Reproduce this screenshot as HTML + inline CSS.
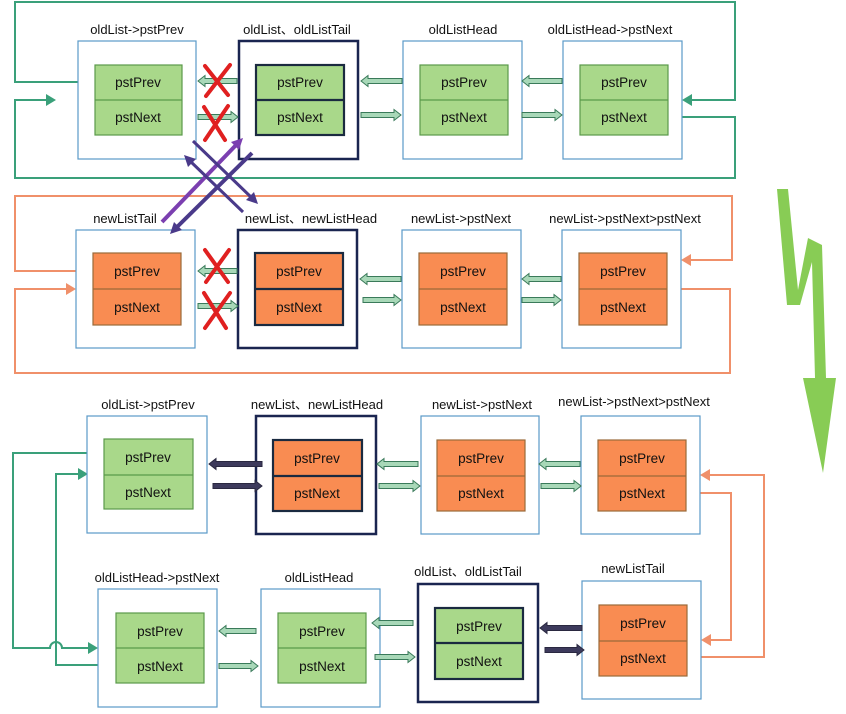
<!DOCTYPE html>
<html><head><meta charset="utf-8"><style>
html,body{margin:0;padding:0;background:#fff;}
svg{display:block;}
text{font-family:"Liberation Sans","Noto Sans CJK SC",sans-serif;fill:#111;}
</style></head><body>
<svg id="s" width="846" height="714" viewBox="0 0 846 714" xmlns="http://www.w3.org/2000/svg">
<g fill="none" stroke-width="2">
<polyline points="95,82 15,82 15,2 735,2 735,100 690,100" stroke="#3aa07a"/>
<polygon points="682,100 692,94 692,106" fill="#3aa07a" stroke="none"/>
<polyline points="648,117 735,117 735,178 15,178 15,100 48,100" stroke="#3aa07a"/>
<polygon points="56,100 46,94 46,106" fill="#3aa07a" stroke="none"/>
<polyline points="93,271 15,271 15,196 732,196 732,260 690,260" stroke="#f0906a"/>
<polygon points="681,260 691,254 691,266" fill="#f0906a" stroke="none"/>
<polyline points="681,289 730,289 730,373 15,373 15,289 68,289" stroke="#f0906a"/>
<polygon points="76,289 66,283 66,295" fill="#f0906a" stroke="none"/>
<path d="M88,453 L13,453 L13,648 L50,648 A6,6 0 0 1 62,648 L90,648" stroke="#3aa07a"/>
<polygon points="98,648 88,642 88,654" fill="#3aa07a" stroke="none"/>
<polyline points="116,665 56,665 56,474 80,474" stroke="#3aa07a"/>
<polygon points="88,474 78,468 78,480" fill="#3aa07a" stroke="none"/>
<polyline points="686,493 731,493 731,640 709,640" stroke="#f0906a"/>
<polygon points="701,640 711,634 711,646" fill="#f0906a" stroke="none"/>
<polyline points="687,657 764,657 764,475 708,475" stroke="#f0906a"/>
<polygon points="700,475 710,469 710,481" fill="#f0906a" stroke="none"/>
</g>
<g id="boxes"></g>
<g id="arrows"></g>
<g stroke-width="4" fill="none">
<line x1="162" y1="222" x2="238" y2="143" stroke="#7b3fb0"/>
<line x1="252" y1="153" x2="175" y2="229" stroke="#4a3a8a"/>
<line x1="193" y1="141" x2="253" y2="199" stroke="#4a3a8a" stroke-width="3"/>
<line x1="243" y1="212" x2="189" y2="160" stroke="#4a3a8a" stroke-width="3"/>
</g>
<polygon points="243,138 231,142 239,150" fill="#7b3fb0"/>
<polygon points="170,234 174,222 182,230" fill="#4a3a8a"/>
<polygon points="258,204 246,200 254,192" fill="#4a3a8a"/>
<polygon points="184,155 196,159 188,167" fill="#4a3a8a"/>
<g stroke="#e02020" stroke-width="4" fill="none" stroke-linecap="round">
<path d="M205,66 L228,95 M230,65 L206,96"/>
<path d="M204,107 L225,140 M228,106 L205,140"/>
<path d="M205,250 L228,282 M229,250 L206,282"/>
<path d="M204,293 L226,328 M230,293 L205,328"/>
</g>
<polygon points="777,189 788,189 798,290 808,238 822,245 826,378 836,378 823,473 803,378 815,378 812,262 800,305 787,305" fill="#88cc55"/>
<g font-size="13" text-anchor="middle">
<text x="137" y="34">oldList-&gt;pstPrev</text>
<text x="297" y="34">oldList、oldListTail</text>
<text x="463" y="34">oldListHead</text>
<text x="610" y="34">oldListHead-&gt;pstNext</text>
<text x="125" y="223">newListTail</text>
<text x="311" y="223">newList、newListHead</text>
<text x="461" y="223">newList-&gt;pstNext</text>
<text x="625" y="223">newList-&gt;pstNext&gt;pstNext</text>
<text x="148" y="409">oldList-&gt;pstPrev</text>
<text x="317" y="409">newList、newListHead</text>
<text x="482" y="409">newList-&gt;pstNext</text>
<text x="634" y="406">newList-&gt;pstNext&gt;pstNext</text>
<text x="157" y="582">oldListHead-&gt;pstNext</text>
<text x="319" y="582">oldListHead</text>
<text x="468" y="576">oldList、oldListTail</text>
<text x="633" y="573">newListTail</text>
</g>
<g id="labels" font-size="13.5" text-anchor="middle">
<text x="138" y="87">pstPrev</text><text x="138" y="122">pstNext</text>
<text x="300" y="87">pstPrev</text><text x="300" y="122">pstNext</text>
<text x="464" y="87">pstPrev</text><text x="464" y="122">pstNext</text>
<text x="624" y="87">pstPrev</text><text x="624" y="122">pstNext</text>
<text x="137" y="276">pstPrev</text><text x="137" y="312">pstNext</text>
<text x="299" y="276">pstPrev</text><text x="299" y="312">pstNext</text>
<text x="463" y="276">pstPrev</text><text x="463" y="312">pstNext</text>
<text x="623" y="276">pstPrev</text><text x="623" y="312">pstNext</text>
<text x="148" y="462">pstPrev</text><text x="148" y="497">pstNext</text>
<text x="317" y="463">pstPrev</text><text x="317" y="498">pstNext</text>
<text x="481" y="463">pstPrev</text><text x="481" y="498">pstNext</text>
<text x="642" y="463">pstPrev</text><text x="642" y="498">pstNext</text>
<text x="160" y="636">pstPrev</text><text x="160" y="671">pstNext</text>
<text x="322" y="636">pstPrev</text><text x="322" y="671">pstNext</text>
<text x="479" y="631">pstPrev</text><text x="479" y="666">pstNext</text>
<text x="643" y="628">pstPrev</text><text x="643" y="663">pstNext</text>
</g>
</svg>
<script>
var NS="http://www.w3.org/2000/svg";
function el(p,t,a){var e=document.createElementNS(NS,t);for(var k in a)e.setAttribute(k,a[k]);p.appendChild(e);return e;}
var B=document.getElementById("boxes"),A=document.getElementById("arrows");
var G="#a9d88a",O="#f98c52";
var boxes=[
[78,41,196,159,95,65,182,135,100,G,0],[239,41,358,159,256,65,344,135,100,G,1],
[403,41,522,159,420,65,508,135,100,G,0],[563,41,682,159,580,65,668,135,100,G,0],
[76,230,195,348,93,253,181,325,289,O,0],[238,230,357,348,255,253,343,325,289,O,1],
[402,230,521,348,419,253,507,325,289,O,0],[562,230,681,348,579,253,667,325,289,O,0],
[87,416,207,533,104,439,193,509,475,G,0],[256,416,376,534,273,440,362,511,476,O,1],
[421,416,539,534,437,440,525,511,476,O,0],[581,416,700,534,598,440,686,511,476,O,0],
[98,589,217,707,116,613,204,683,648,G,0],[261,589,380,707,278,613,366,683,648,G,0],
[418,584,538,702,435,608,523,679,643,G,1],[582,581,701,699,599,605,687,676,641,O,0]];
boxes.forEach(function(b){
 el(B,"rect",{x:b[0],y:b[1],width:b[2]-b[0],height:b[3]-b[1],fill:"#fff",stroke:b[10]?"#1a2550":"#5a9ac8","stroke-width":b[10]?2.5:1.2});
 var st=b[10]?"#1a2a40":(b[9]==G?"#5a9a4a":"#9a6a3a");
 el(B,"rect",{x:b[4],y:b[5],width:b[6]-b[4],height:b[7]-b[5],fill:b[9],stroke:st,"stroke-width":b[10]?2.2:1.2});
 el(B,"line",{x1:b[4],y1:b[8],x2:b[6],y2:b[8],stroke:st,"stroke-width":b[10]?2.2:1.2});
});
function arr(xa,xb,y,dark){
 var d=xb>xa?1:-1,h=7*d,s=2.5,hw=5.5;
 var pts=[[xa,y-s],[xb-h,y-s],[xb-h,y-hw],[xb,y],[xb-h,y+hw],[xb-h,y+s],[xa,y+s]];
 el(A,"polygon",{points:pts.map(function(p){return p.join(",")}).join(" "),
  fill:dark?"#3d3a5c":"#a8d8b8",stroke:dark?"#2a2840":"#3a7a5a","stroke-width":1});
}
arr(237,198,81);arr(198,238,117);
arr(402,361,81);arr(361,401,115);
arr(562,522,81);arr(522,562,115);
arr(237,198,271);arr(198,238,306);
arr(401,360,279);arr(363,401,300);
arr(561,522,279);arr(522,561,300);
arr(262,209,464,1);arr(213,262,486,1);
arr(418,377,464);arr(379,420,486);
arr(580,539,464);arr(541,581,486);
arr(256,219,631);arr(219,258,666);
arr(413,372,623);arr(375,415,657);
arr(582,540,628,1);arr(545,584,650,1);
</script>
</body></html>
